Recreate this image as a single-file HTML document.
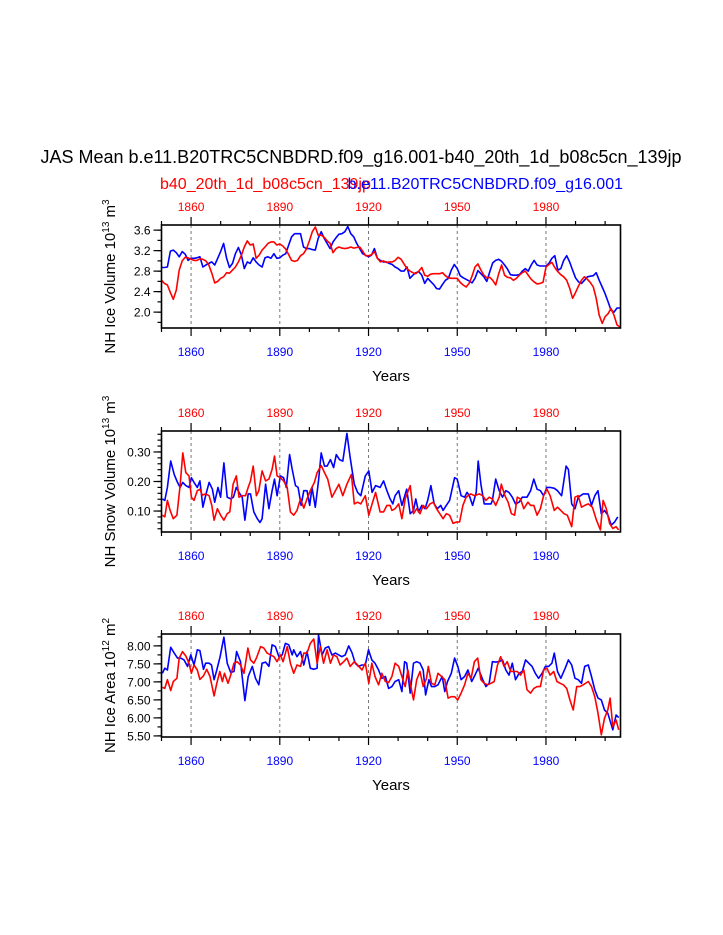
<!DOCTYPE html>
<html><head><meta charset="utf-8">
<style>
html,body{margin:0;padding:0;background:#fff;}
svg{display:block;font-family:"Liberation Sans",Arial,sans-serif;}
</style></head>
<body>
<svg id="chart" width="723" height="935" viewBox="0 0 723 935" xmlns="http://www.w3.org/2000/svg">
<text x="361" y="163" font-size="18" text-anchor="middle">JAS Mean b.e11.B20TRC5CNBDRD.f09_g16.001-b40_20th_1d_b08c5cn_139jp</text>
<text x="160" y="189" font-size="16" fill="#ff0000">b40_20th_1d_b08c5cn_139jp</text>
<text x="623" y="189" font-size="16" fill="#0000ff" text-anchor="end">b.e11.B20TRC5CNBDRD.f09_g16.001</text>
<g id="plots"></g>
</svg>
<script>
// ---- Data ----
const yearTicks = [1860, 1890, 1920, 1950, 1980];
const volStartYear = 1850;
const volRed = [2.62,2.56,2.53,2.38,2.25,2.43,2.82,3.00,3.07,3.06,3.03,3.01,3.01,3.04,3.03,3.00,2.92,2.76,2.57,2.60,2.66,2.69,2.77,2.76,2.82,2.88,2.98,3.11,3.27,3.39,3.31,3.33,3.05,3.11,3.21,3.27,3.34,3.37,3.37,3.31,3.33,3.29,3.23,3.12,3.01,2.99,3.01,3.10,3.14,3.23,3.39,3.57,3.66,3.50,3.50,3.46,3.39,3.34,3.16,3.24,3.27,3.25,3.24,3.25,3.27,3.25,3.26,3.27,3.19,3.10,3.10,3.12,3.18,3.05,2.98,3.00,
2.97,2.98,2.98,3.01,3.07,3.03,2.94,2.85,2.80,2.77,2.75,2.80,2.87,2.72,2.70,2.74,2.75,2.75,2.75,2.77,2.71,2.67,2.66,2.66,2.66,2.58,2.53,2.49,2.56,2.70,2.88,2.94,2.82,2.72,2.67,2.68,2.62,2.53,2.75,2.92,2.72,2.68,2.67,2.62,2.66,2.72,2.77,2.80,2.72,2.64,2.59,2.55,2.56,2.58,2.88,2.93,2.97,2.87,2.79,2.73,2.69,2.62,2.47,2.27,2.38,2.51,2.62,2.69,2.64,2.58,2.49,2.27,1.94,1.78,1.91,1.97,2.07,1.94,1.75,1.71];
const volBlue = [2.87,2.87,2.88,3.19,3.21,3.16,3.08,3.18,3.13,3.01,3.05,3.05,3.06,3.08,2.88,2.92,2.95,2.98,2.92,3.05,3.18,3.34,3.05,2.87,2.95,3.14,3.26,3.11,2.85,2.98,2.95,3.06,2.98,2.92,2.88,3.06,3.08,3.05,3.14,3.05,
3.06,3.11,3.14,3.31,3.47,3.53,3.53,3.53,3.27,3.24,3.24,3.22,3.21,3.44,3.57,3.44,3.34,3.24,3.37,3.45,3.52,3.53,3.57,3.67,3.53,3.47,3.34,3.24,3.14,3.11,3.08,3.11,3.24,3.05,3.01,2.98,
2.98,2.95,2.93,2.88,2.85,2.80,2.80,2.88,2.66,2.72,2.77,2.79,2.72,2.56,2.66,2.60,2.54,2.46,2.45,2.54,2.62,2.66,2.82,2.93,2.85,2.71,2.67,2.64,2.61,2.57,2.66,2.81,2.75,2.69,2.60,2.79,2.96,3.01,3.03,2.99,2.92,2.84,2.73,2.72,2.72,2.73,2.80,2.85,2.80,2.92,3.01,2.92,2.90,2.90,2.90,2.95,3.05,3.10,2.82,2.85,3.01,3.10,2.98,2.82,2.67,2.59,2.56,2.62,2.69,2.70,2.71,2.77,2.62,2.49,2.36,2.20,2.04,2.00,2.08,2.08];

const snowRedYears = [1850.3,1851.1,1852.0,1852.9,1854.0,1855.2,1856.3,1857.2,1858.2,1859.3,1860.1,1861.0,1862.1,1863.0,1863.8,1864.9,1866.1,1867.0,1867.8,1868.9,1870.0,1871.1,1872.2,1873.1,1874.2,1875.3,1876.2,1877.3,1878.4,1879.3,1880.1,1881.0,1882.1,1882.9,1884.0,1885.2,1886.3,1887.4,1888.2,1889.1,1890.2,1891.3,1892.5,1893.6,1894.7,1895.8,1897.0,1898.1,1899.2,1900.3,1901.7,1902.6,1904.0,1905.1,1906.2,1907.6,1908.8,1910.0,1911.3,1912.7,1914.2,1915.2,1916.3,1917.4,1918.9,1920.1,1921.2,1922.4,1923.9,1925.1,1926.2,1927.3,
1927.9,1929.0,1930.2,1931.3,1932.4,1934.1,1935.2,1936.3,1937.4,1938.5,1939.6,1940.8,1941.9,1943.0,1944.1,1945.2,1946.3,1947.4,1948.6,1949.7,1950.8,1951.9,1953.0,1954.5,1955.8,1957.5,1958.6,1959.7,1960.8,1961.9,1963.0,1964.2,1964.9,1966.1,1967.2,1968.3,1969.4,1970.3,1971.4,1972.5,1973.9,1974.8,1975.9,1977.0,1978.1,1979.2,1980.3,1981.4,1982.8,1983.9,1985.0,1986.1,1987.2,1988.7,1989.8,1990.9,1992.0,1993.1,1994.3,1995.7,1997.1,1998.4,1999.3,2000.4,2001.5,2002.6,2003.7,2004.6];
const snowRed = [0.086,0.080,0.136,0.102,0.074,0.086,0.186,0.297,0.230,0.219,0.147,0.136,0.169,0.174,0.154,0.158,0.152,0.119,0.069,0.108,0.086,0.069,0.091,0.097,0.191,0.219,0.147,0.152,0.152,0.180,0.202,0.252,0.152,0.169,0.236,0.202,0.208,0.241,0.286,0.219,0.213,0.202,0.180,0.097,0.086,0.102,0.141,0.110,0.141,0.169,0.197,0.230,0.254,0.230,0.208,0.147,0.169,0.191,0.152,0.191,0.224,0.124,0.130,0.124,0.152,0.086,0.124,0.163,0.097,0.097,0.119,0.119,
0.102,0.108,0.124,0.074,0.141,0.186,0.091,0.108,0.091,0.119,0.108,0.124,0.130,0.108,0.091,0.074,0.091,0.086,0.058,0.063,0.063,0.119,0.147,0.158,0.152,0.158,0.152,0.136,0.147,0.141,0.119,0.147,0.191,0.152,0.130,0.091,0.086,0.147,0.141,0.108,0.130,0.119,0.119,0.086,0.108,0.152,0.174,0.152,0.102,0.113,0.102,0.091,0.086,0.047,0.147,0.152,0.113,0.119,0.124,0.113,0.069,0.036,0.136,0.108,0.058,0.041,0.047,0.036];
const snowBlueYears = [1850.3,1851.1,1852.0,1853.1,1854.3,1855.4,1856.3,1857.2,1858.2,1859.3,1860.1,1861.0,1862.1,1863.0,1864.0,1864.9,1866.1,1867.2,1868.0,1869.1,1870.0,1871.1,1872.2,1873.4,1874.3,1875.3,1876.2,1877.3,1878.2,1879.3,1880.1,1881.2,1882.4,1883.3,1884.0,1885.2,1886.3,1887.4,1888.2,1889.1,1890.2,1891.3,1892.2,1893.3,1894.2,1895.3,1896.2,1897.2,1898.1,1899.2,1900.1,1900.9,1902.0,1903.1,1904.0,1905.1,1906.0,1907.1,1908.2,1909.1,1910.2,1911.3,1912.7,1913.8,1915.2,1916.3,1917.4,1918.9,1920.1,1921.2,1922.4,1923.9,1925.1,1926.2,1927.3,
1928.2,1929.0,1930.2,1931.3,1932.9,1934.1,1935.2,1936.0,1936.9,1938.0,1939.1,1940.0,1941.1,1942.2,1943.3,1944.4,1945.2,1946.3,1947.4,1949.1,1950.0,1951.3,1952.5,1953.3,1954.1,1955.2,1956.4,1957.1,1958.0,1959.1,1960.3,1961.4,1961.9,1963.0,1964.2,1965.3,1966.4,1967.5,1968.6,1969.7,1970.9,1972.0,1973.6,1974.8,1975.9,1977.0,1978.1,1979.2,1980.3,1981.4,1982.8,1983.9,1985.3,1986.8,1987.6,1988.7,1989.8,1990.9,1992.6,1994.3,1995.4,1996.5,1997.6,1998.7,1999.8,2000.9,2002.1,2003.2,2004.3];
const snowBlue = [0.141,0.136,0.180,0.269,0.224,0.197,0.180,0.197,0.186,0.180,0.213,0.197,0.180,0.202,0.113,0.152,0.197,0.174,0.130,0.180,0.147,0.263,0.147,0.141,0.147,0.180,0.163,0.147,0.069,0.158,0.158,0.097,0.074,0.061,0.074,0.191,0.108,0.169,0.208,0.152,0.219,0.213,0.180,0.291,0.241,0.186,0.180,0.119,0.169,0.169,0.119,0.180,0.113,0.202,0.297,0.252,0.252,0.274,0.247,0.291,0.274,0.269,0.363,0.280,0.191,0.163,0.152,0.219,0.236,0.163,0.186,0.180,0.202,0.169,0.141,
0.124,0.152,0.169,0.119,0.174,0.091,0.102,0.141,0.097,0.119,0.108,0.136,0.186,0.124,0.108,0.119,0.102,0.119,0.136,0.213,0.208,0.152,0.147,0.163,0.152,0.119,0.163,0.269,0.191,0.124,0.124,0.124,0.136,0.208,0.169,0.147,0.169,0.163,0.147,0.124,0.130,0.147,0.147,0.169,0.208,0.174,0.169,0.152,0.180,0.180,0.177,0.169,0.152,0.252,0.241,0.124,0.108,0.147,0.158,0.158,0.119,0.152,0.169,0.091,0.102,0.086,0.052,0.063,0.080];

const areaRedYears = [1850.3,1851.1,1852.0,1853.1,1854.0,1855.2,1856.0,1857.1,1858.2,1859.3,1860.1,1861.0,1862.1,1863.0,1864.2,1865.3,1866.4,1867.8,1868.7,1869.7,1870.6,1871.3,1872.5,1873.4,1874.5,1875.6,1876.7,1877.9,1879.2,1880.1,1881.2,1882.1,1883.5,1884.6,1885.7,1886.9,1888.0,1889.1,1890.2,1891.1,1892.5,1893.6,1894.7,1895.8,1897.0,1898.1,1899.2,1900.3,1901.5,1902.6,1903.7,1904.8,1906.0,1907.1,1908.2,1909.3,1910.4,1911.6,1912.7,1913.8,1915.2,1916.3,1917.8,1918.9,1920.1,1921.1,1922.2,1923.4,1924.5,
1925.7,1926.8,1927.9,1929.0,1930.2,1931.3,1932.4,1933.3,1934.1,1935.2,1936.3,1937.4,1938.5,1939.6,1940.2,1941.3,1942.4,1943.5,1944.7,1945.8,1946.9,1948.0,1949.1,1950.2,1951.3,1952.5,1953.6,1954.7,1955.8,1956.9,1958.0,1959.1,1960.3,1961.4,1962.5,1963.6,1964.7,1965.8,1966.9,1968.1,1969.2,1970.3,1971.4,1972.5,1973.6,1974.8,1975.9,1977.0,1978.1,1979.2,1980.3,1981.4,1982.6,1983.7,1984.8,1985.9,1987.0,1988.1,1989.2,1990.4,1991.5,1992.6,1994.3,1995.4,1996.5,1997.6,1998.7,1999.8,2000.9,2001.7,2002.6,2003.7,2004.6];
const areaRed = [6.85,6.82,7.06,6.76,7.01,7.10,7.66,7.84,7.72,7.52,7.24,7.47,7.33,7.07,7.17,7.35,7.15,6.61,6.96,7.29,7.01,7.24,6.96,7.19,7.52,7.56,7.47,7.24,7.94,7.61,7.52,7.66,7.98,7.94,7.80,7.75,7.70,7.56,7.75,7.56,7.98,7.52,7.24,7.47,7.43,7.80,7.80,8.07,8.19,7.52,7.98,7.52,7.89,7.52,7.75,7.70,7.47,7.56,7.66,7.43,7.56,7.47,7.33,7.52,6.96,7.52,7.15,6.92,7.24,
7.01,6.98,7.15,7.52,7.43,7.15,6.87,7.33,6.96,6.50,7.06,7.29,6.87,7.10,7.43,6.96,6.92,7.24,7.15,7.06,6.55,6.59,6.59,6.50,6.69,6.92,7.24,7.10,7.56,7.66,7.06,6.96,6.92,6.96,7.01,7.47,7.70,7.43,7.56,7.29,7.29,7.29,7.19,7.33,6.78,6.69,6.82,6.87,6.87,7.33,7.38,7.19,7.29,7.01,6.96,6.92,6.82,6.50,6.22,6.87,6.87,6.92,7.01,6.87,6.59,6.13,5.53,5.99,6.22,6.55,5.76,5.94,5.67];
const areaBlueYears = [1850.3,1851.1,1852.0,1853.1,1854.3,1855.4,1856.5,1857.6,1858.8,1859.9,1861.0,1862.1,1863.0,1864.2,1864.9,1866.1,1866.9,1867.8,1868.7,1869.8,1871.1,1872.2,1873.4,1874.5,1875.4,1876.7,1878.2,1879.3,1880.7,1881.8,1882.9,1884.0,1885.2,1886.3,1887.4,1888.5,1889.7,1890.8,1891.9,1893.0,1894.2,1894.7,1895.8,1897.0,1898.1,1899.2,1900.3,1901.5,1902.6,1903.1,1904.3,1905.4,1906.5,1907.6,1908.8,1909.9,1911.0,1912.1,1913.3,1914.4,1915.5,1916.6,1917.8,1918.9,1920.0,1921.1,1922.2,1923.4,1924.5,
1925.7,1926.8,1927.9,1929.0,1930.2,1931.3,1932.2,1932.9,1934.1,1935.2,1936.3,1937.4,1938.5,1939.3,1940.4,1941.3,1942.4,1943.5,1944.9,1945.8,1946.7,1948.0,1949.1,1950.2,1951.3,1952.5,1953.6,1954.9,1956.0,1957.1,1958.6,1959.7,1960.8,1961.9,1963.0,1964.2,1965.3,1966.4,1967.5,1968.6,1969.7,1970.9,1972.0,1973.1,1974.2,1975.3,1976.4,1977.5,1978.7,1979.8,1980.9,1982.0,1982.8,1983.9,1985.0,1986.5,1987.6,1988.7,1989.8,1990.9,1992.0,1993.1,1994.3,1995.4,1996.5,1997.6,1998.7,1999.8,2000.9,2002.6,2003.7,2004.6];
const areaBlue = [7.24,7.38,7.33,7.96,7.80,7.66,7.66,7.61,7.43,7.75,7.47,7.89,7.87,7.35,7.52,7.52,7.47,7.06,7.33,7.70,8.24,7.52,7.26,7.29,7.84,7.56,6.48,7.15,7.43,7.10,6.92,7.52,7.55,7.43,8.03,7.98,7.70,7.75,8.07,8.03,7.75,7.89,7.70,7.84,7.47,7.84,7.38,7.35,7.38,8.31,7.75,7.94,7.98,7.75,7.80,7.75,7.70,7.75,8.00,7.81,7.52,7.43,7.47,7.47,7.89,7.61,7.52,7.33,7.10,
7.15,6.82,6.87,7.01,7.06,6.73,7.56,7.52,6.69,7.52,7.56,7.52,7.33,6.64,7.06,6.87,6.87,6.92,7.15,6.73,7.01,7.24,7.66,7.43,7.06,7.15,7.33,7.01,7.19,7.38,7.06,6.87,6.96,7.56,7.55,7.56,7.61,7.33,7.19,7.52,7.06,7.24,7.29,7.61,7.52,7.43,7.24,7.10,7.24,7.43,7.43,7.52,7.80,7.29,7.10,7.38,7.61,7.47,7.10,7.06,6.96,7.43,7.47,7.15,6.78,6.55,6.50,6.22,6.13,5.67,6.08,6.01];

const volTicks = [2.0, 2.4, 2.8, 3.2, 3.6];
const volTickLabels = ["2.0","2.4","2.8","3.2","3.6"];
const snowTicks = [0.10, 0.20, 0.30];
const snowTickLabels = ["0.10","0.20","0.30"];
const areaTicks = [5.5, 6.0, 6.5, 7.0, 7.5, 8.0];
const areaTickLabels = ["5.50","6.00","6.50","7.00","7.50","8.00"];

// ---- Drawing ----
const NS = "http://www.w3.org/2000/svg";
const root = document.getElementById("plots");
const X0 = 161.5, X1 = 620.5, YR0 = 1850, YR1 = 2005.2;
function xs(yr){ return X0 + (yr - YR0) / (YR1 - YR0) * (X1 - X0); }
function mk(tag, attrs, parent){
  const e = document.createElementNS(NS, tag);
  for (const k in attrs) e.setAttribute(k, attrs[k]);
  (parent || root).appendChild(e);
  return e;
}
function seq(start, n){ const a=[]; for(let i=0;i<n;i++) a.push(start+i); return a; }

function panel(cfg){
  const g = mk("g", {});
  
  
  const ys = v => cfg.bot - (v - cfg.vmin) / (cfg.vmax - cfg.vmin) * (cfg.bot - cfg.top);
  yearTicks.forEach(yr => {
    const l = mk("line", {x1:xs(yr), x2:xs(yr), y1:cfg.top, y2:cfg.bot, stroke:"#777", "stroke-width":1, "stroke-dasharray":"3,3"}, g);
    
    
  });
  cfg.series.forEach(s => {
    let d = "";
    s.y.forEach((v, i) => { d += (i ? "L" : "M") + xs(s.x[i]).toFixed(1) + "," + ys(v).toFixed(1); });
    const p = mk("path", {d:d, fill:"none", stroke:s.color, "stroke-width":1.6, "stroke-linejoin":"round"}, g);
    
    
  });
  const f = mk("rect", {x:X0, y:cfg.top, width:X1-X0, height:cfg.bot-cfg.top, fill:"none", stroke:"#000", "stroke-width":1.6}, g);
  
  
  for (let yr = 1850; yr <= 2000; yr += 10) {
    const major = yearTicks.indexOf(yr) >= 0;
    const L = major ? 8 : 4;
    mk("line", {x1:xs(yr), x2:xs(yr), y1:cfg.top, y2:cfg.top - L, stroke:"#000", "stroke-width":1.2}, g);
    mk("line", {x1:xs(yr), x2:xs(yr), y1:cfg.bot, y2:cfg.bot + L, stroke:"#000", "stroke-width":1.2}, g);
  }
  yearTicks.forEach(yr => {
    const t1 = mk("text", {x:xs(yr), y:cfg.top - 14, "font-size":12, fill:"#ff0000", "text-anchor":"middle"}, g);
    t1.textContent = yr;
    
    
    const t2 = mk("text", {x:xs(yr), y:cfg.bot + 28, "font-size":12, fill:"#0000ff", "text-anchor":"middle"}, g);
    t2.textContent = yr;
    
    
  });
  for (let v = cfg.minorStart; v <= cfg.vmax + 1e-9; v += cfg.minorStep) {
    if (v < cfg.vmin - 1e-9) continue;
    mk("line", {x1:X0, x2:X0 - 4, y1:ys(v), y2:ys(v), stroke:"#000", "stroke-width":1.2}, g);
  }
  cfg.ticks.forEach((v, i) => {
    mk("line", {x1:X0, x2:X0 - 8, y1:ys(v), y2:ys(v), stroke:"#000", "stroke-width":1.2}, g);
    const t = mk("text", {x:X0 - 11, y:ys(v) + 4.5, "font-size":12, "text-anchor":"end"}, g);
    t.textContent = cfg.labels[i];
    
    
  });
  const xt = mk("text", {x:391, y:cfg.bot + 53, "font-size":15, "text-anchor":"middle"}, g);
  xt.textContent = "Years";
  
  
  const cy = (cfg.top + cfg.bot) / 2;
  const yt = mk("text", {x:0, y:0, "font-size":15, "text-anchor":"middle", transform:"translate(115," + cy + ") rotate(-90)"}, g);
  
  
  const a = mk("tspan", {}, yt); a.textContent = cfg.ytitle + " 10";
  const b = mk("tspan", {dy:-6, "font-size":10}, yt); b.textContent = cfg.exp1;
  const c = mk("tspan", {dy:6}, yt); c.textContent = " m";
  const d2 = mk("tspan", {dy:-6, "font-size":10}, yt); d2.textContent = cfg.exp2;
}

const volYears = seq(volStartYear, volRed.length);
panel({name:"ice-volume-panel", top:225, bot:328, vmin:1.69, vmax:3.70, ticks:volTicks, labels:volTickLabels, minorStart:1.8, minorStep:0.2,
  ytitle:"NH Ice Volume", exp1:"13", exp2:"3",
  series:[{name:"ice-volume-blue-line", color:"#0000ff", x:seq(volStartYear, volBlue.length), y:volBlue},
          {name:"ice-volume-red-line", color:"#ff0000", x:volYears, y:volRed}]});
panel({name:"snow-volume-panel", top:431, bot:532, vmin:0.029, vmax:0.371, ticks:snowTicks, labels:snowTickLabels, minorStart:0.04, minorStep:0.02,
  ytitle:"NH Snow Volume", exp1:"13", exp2:"3",
  series:[{name:"snow-volume-blue-line", color:"#0000ff", x:snowBlueYears, y:snowBlue},
          {name:"snow-volume-red-line", color:"#ff0000", x:snowRedYears, y:snowRed}]});
panel({name:"ice-area-panel", top:634, bot:737, vmin:5.47, vmax:8.33, ticks:areaTicks, labels:areaTickLabels, minorStart:5.5, minorStep:0.25,
  ytitle:"NH Ice Area", exp1:"12", exp2:"2",
  series:[{name:"ice-area-blue-line", color:"#0000ff", x:areaBlueYears, y:areaBlue},
          {name:"ice-area-red-line", color:"#ff0000", x:areaRedYears, y:areaRed}]});
</script>
</body></html>
